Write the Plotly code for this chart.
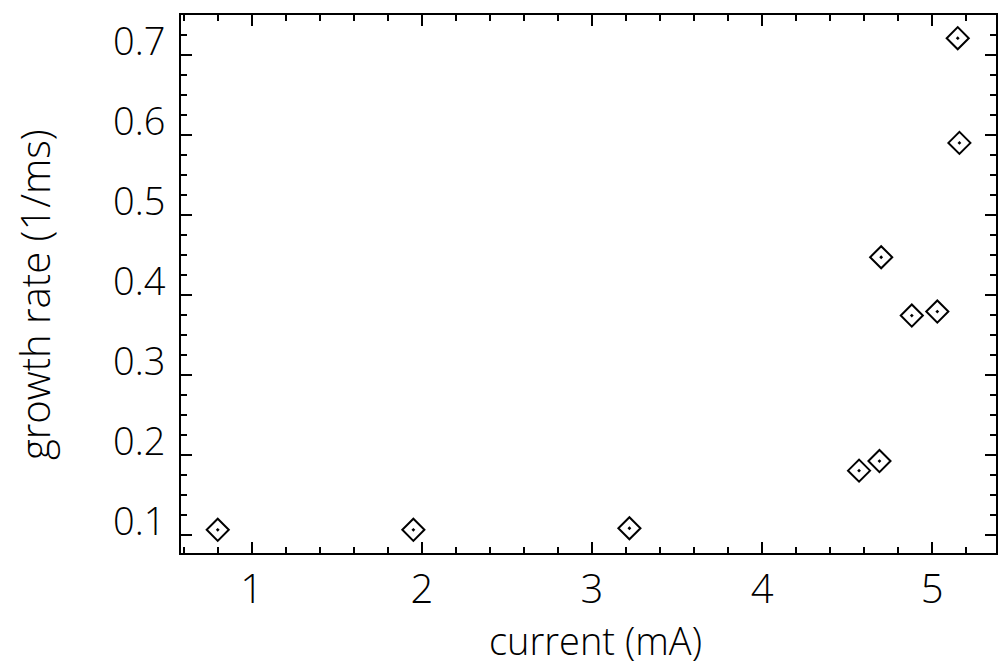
import plotly.graph_objects as go

current_mA = [0.80, 1.95, 3.22, 4.57, 4.69, 4.70, 4.88, 5.03, 5.15, 5.16]
growth_rate = [0.106, 0.106, 0.108, 0.180, 0.192, 0.447, 0.374, 0.379, 0.721, 0.590]

x_ticks = [1, 2, 3, 4, 5]
y_ticks = [0.1, 0.2, 0.3, 0.4, 0.5, 0.6, 0.7]

FONT = "Open Sans"
W = 300

fig = go.Figure()
fig.add_trace(go.Scatter(
    x=current_mA, y=growth_rate, mode="markers",
    marker=dict(symbol="diamond-open-dot", size=17, color="black",
                line=dict(width=2, color="black")),
    showlegend=False,
))

fig.update_layout(
    width=1002, height=668,
    margin=dict(l=181, r=4, t=15, b=115),
    paper_bgcolor="white", plot_bgcolor="white",
    font=dict(family=FONT, color="black", weight=W),
    xaxis=dict(
        range=[0.584, 5.375], tickvals=x_ticks, ticktext=[str(v) for v in x_ticks],
        ticks="inside", ticklen=11, tickwidth=1.5, tickcolor="black",
        minor=dict(dtick=0.2, tick0=0, ticks="inside", ticklen=6, tickwidth=1.5, tickcolor="black"),
        showline=True, linewidth=2, linecolor="black", mirror="ticks",
        showgrid=False, zeroline=False,
        tickfont=dict(size=40, family=FONT, weight=W),
        ticklabelstandoff=0,
    ),
    yaxis=dict(
        range=[0.077, 0.750], tickvals=y_ticks, ticktext=["%.1f" % v for v in y_ticks],
        ticks="inside", ticklen=11, tickwidth=1.5, tickcolor="black",
        minor=dict(dtick=0.025, tick0=0, ticks="inside", ticklen=6, tickwidth=1.5, tickcolor="black"),
        showline=True, linewidth=2, linecolor="black", mirror="ticks",
        showgrid=False, zeroline=False,
        tickfont=dict(size=38, family=FONT, weight=W),
        ticklabelshift=-13, ticklabelstandoff=6,
    ),
    annotations=[
        dict(text="current (mA)", xref="paper", yref="paper", x=0.509, y=-0.2135,
             xanchor="center", yanchor="bottom", showarrow=False,
             font=dict(size=38, family=FONT, weight=W)),
        dict(text="growth rate (1/ms)", xref="paper", yref="paper", x=-0.18, y=0.48,
             xanchor="center", yanchor="middle", showarrow=False, textangle=-90,
             font=dict(size=40, family=FONT, weight=W)),
    ],
)

fig.write_html("out.html")
